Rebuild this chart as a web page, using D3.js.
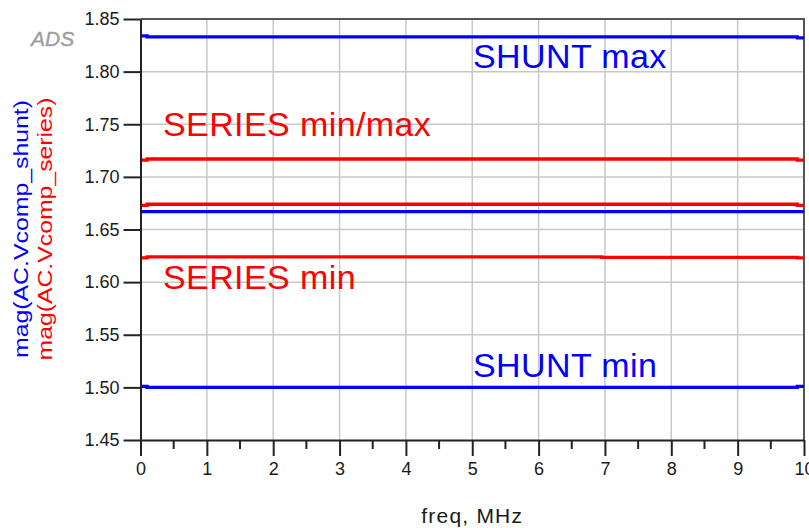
<!DOCTYPE html>
<html>
<head>
<meta charset="utf-8">
<script src="https://cdn.jsdelivr.net/npm/d3@7"></script>
<style>
  body { margin: 0; background: #fff; }
  text { font-family: "Liberation Sans", Arial, sans-serif; }
</style>
</head>
<body>
<div id="chart"></div>
<script>
// frequency points (MHz) where the traces are sampled
const freq = [0, 0.1, 6.95, 9.9, 10];

// shunt traces (blue)
const shuntMax = [1.834, 1.833, 1.833, 1.832, 1.832];
const shuntMid = [1.667, 1.667, 1.667, 1.667, 1.667];
const shuntMin = [1.501, 1.500, 1.500, 1.501, 1.501];

// series traces (red)
const seriesMax = [1.716, 1.717, 1.717, 1.716, 1.716];
const seriesMid = [1.673, 1.674, 1.674, 1.673, 1.673];
const seriesMin = [1.623, 1.624, 1.6235, 1.623, 1.623];

const xTicks = [0, 1, 2, 3, 4, 5, 6, 7, 8, 9, 10];
const xMinor = [0.5, 1.5, 2.5, 3.5, 4.5, 5.5, 6.5, 7.5, 8.5, 9.5];
const yTicks = [1.45, 1.50, 1.55, 1.60, 1.65, 1.70, 1.75, 1.80, 1.85];

const width = 809, height = 528;
const margin = { top: 19, right: 5, bottom: 88, left: 140.5 };

const svg = d3.select("#chart").append("svg")
    .attr("width", width)
    .attr("height", height);

const x = d3.scaleLinear().domain([0, 10]).range([margin.left, width - margin.right]);
const y = d3.scaleLinear().domain([1.45, 1.85]).range([height - margin.bottom, margin.top]);

// grid
svg.append("g")
    .selectAll("line")
    .data(xTicks.slice(1, -1))
    .enter().append("line")
    .attr("x1", d => x(d)).attr("x2", d => x(d))
    .attr("y1", y(1.85)).attr("y2", y(1.45))
    .attr("stroke", "#c8c8c8").attr("stroke-width", 1.5);

svg.append("g")
    .selectAll("line")
    .data(yTicks.slice(1, -1))
    .enter().append("line")
    .attr("x1", x(0)).attr("x2", x(10))
    .attr("y1", d => y(d)).attr("y2", d => y(d))
    .attr("stroke", "#c8c8c8").attr("stroke-width", 1.5);

// top and right frame
svg.append("path")
    .attr("d", `M${x(0)},${y(1.85)}H${x(10)}V${y(1.45)}`)
    .attr("fill", "none")
    .attr("stroke", "#555")
    .attr("stroke-width", 2);

// traces
const line = d3.line()
    .x(d => x(d[0]))
    .y(d => y(d[1]))
    .curve(d3.curveStepAfter);

const traces = [
    { vals: shuntMax, color: "#0000ff" },
    { vals: shuntMid, color: "#0000ff" },
    { vals: shuntMin, color: "#0000ff" },
    { vals: seriesMax, color: "#ff0000" },
    { vals: seriesMid, color: "#ff0000" },
    { vals: seriesMin, color: "#ff0000" }
];

svg.selectAll(".trace")
    .data(traces)
    .enter().append("path")
    .attr("class", "trace")
    .attr("d", t => line(freq.map((f, i) => [f, t.vals[i]])))
    .attr("fill", "none")
    .attr("stroke", t => t.color)
    .attr("stroke-width", 3.3);

// x axis
const xAxis = svg.append("g")
    .attr("transform", `translate(0,${y(1.45)})`)
    .call(d3.axisBottom(x).tickValues(xTicks).tickFormat(d3.format("d")).tickSize(16).tickPadding(6).tickSizeOuter(0));
xAxis.select(".domain").attr("stroke", "#222").attr("stroke-width", 2);
xAxis.selectAll(".tick line").attr("stroke", "#222").attr("stroke-width", 2);
xAxis.selectAll(".tick text").attr("font-size", "18px").attr("fill", "#1a1a1a")
    .style("font-family", "'Liberation Sans', Arial, sans-serif");

svg.append("g")
    .attr("transform", `translate(0,${y(1.45)})`)
    .selectAll("line")
    .data(xMinor)
    .enter().append("line")
    .attr("x1", d => x(d)).attr("x2", d => x(d))
    .attr("y1", 0).attr("y2", 9)
    .attr("stroke", "#222").attr("stroke-width", 2);

// y axis
const yAxis = svg.append("g")
    .attr("transform", `translate(${x(0)},0)`)
    .call(d3.axisLeft(y).tickValues(yTicks).tickFormat(d3.format(".2f")).tickSize(17).tickPadding(4).tickSizeOuter(0));
yAxis.select(".domain").attr("stroke", "#222").attr("stroke-width", 2);
yAxis.selectAll(".tick line").attr("stroke", "#222").attr("stroke-width", 2);
yAxis.selectAll(".tick text").attr("font-size", "18px").attr("fill", "#1a1a1a")
    .style("font-family", "'Liberation Sans', Arial, sans-serif");

// trace labels
const labels = [
    { text: "SHUNT max", x: 473, y: 68, color: "#0000ff" },
    { text: "SERIES min/max", x: 163, y: 136, color: "#ff0000" },
    { text: "SERIES min", x: 163, y: 289, color: "#ff0000" },
    { text: "SHUNT min", x: 473, y: 377, color: "#0000ff" }
];
svg.selectAll(".lbl")
    .data(labels)
    .enter().append("text")
    .attr("x", d => d.x)
    .attr("y", d => d.y)
    .attr("font-size", "34px")
    .attr("letter-spacing", "0.4px")
    .attr("fill", d => d.color)
    .text(d => d.text);

// axis titles
svg.append("text")
    .attr("x", x(5))
    .attr("y", 523)
    .attr("text-anchor", "middle")
    .attr("font-size", "21px")
    .attr("letter-spacing", "1.2px")
    .attr("fill", "#1a1a1a")
    .text("freq, MHz");

svg.append("text")
    .attr("transform", "translate(28,229) rotate(-90)")
    .attr("text-anchor", "middle")
    .attr("font-size", "20px")
    .attr("textLength", 258)
    .attr("lengthAdjust", "spacingAndGlyphs")
    .attr("fill", "#0000ff")
    .text("mag(AC.Vcomp_shunt)");

svg.append("text")
    .attr("transform", "translate(52,229) rotate(-90)")
    .attr("text-anchor", "middle")
    .attr("font-size", "20px")
    .attr("textLength", 263)
    .attr("lengthAdjust", "spacingAndGlyphs")
    .attr("fill", "#ff0000")
    .text("mag(AC.Vcomp_series)");

// ADS watermark
svg.append("text")
    .attr("x", 31)
    .attr("y", 46)
    .attr("font-size", "21px")
    .attr("font-style", "italic")
    .attr("fill", "#a0a0a0")
    .attr("stroke", "#a0a0a0")
    .attr("stroke-width", 0.4)
    .text("ADS");
</script>
</body>
</html>
